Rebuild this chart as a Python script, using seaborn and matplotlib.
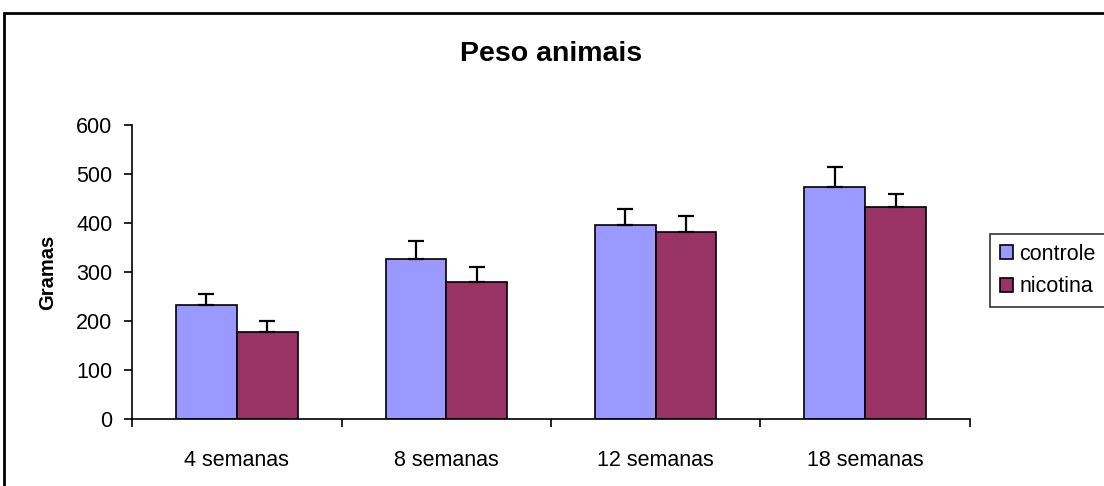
import matplotlib
matplotlib.use("Agg")
import matplotlib.pyplot as plt
import seaborn as sns
import pandas as pd
from matplotlib.patches import Rectangle

# Data
semanas = ["4 semanas", "8 semanas", "12 semanas", "18 semanas"]
controle = [233, 326, 396, 474]
nicotina = [177, 280, 382, 433]
controle_err = [22, 37, 33, 41]
nicotina_err = [22, 30, 33, 26]
grupos = ["controle", "nicotina"]
cores = ["#9999FF", "#993366"]

df = pd.DataFrame({
    "Semana": semanas * 2,
    "Peso": controle + nicotina,
    "Grupo": [grupos[0]] * 4 + [grupos[1]] * 4,
})

sns.set_style("white")
plt.rcParams["font.family"] = ["Liberation Sans", "DejaVu Sans"]
plt.rcParams["text.color"] = "black"
plt.rcParams["axes.labelcolor"] = "black"
plt.rcParams["xtick.color"] = "black"
plt.rcParams["ytick.color"] = "black"

fig = plt.figure(figsize=(11.04, 4.86), dpi=100)
ax = fig.add_axes([0.1196, 0.1379, 0.7590, 0.6049])

sns.barplot(data=df, x="Semana", y="Peso", hue="Grupo", order=semanas,
            hue_order=grupos, palette=cores, width=0.58, gap=0,
            errorbar=None, edgecolor="black", linewidth=1.2, saturation=1,
            ax=ax)

# one-sided error bars on top of each bar
erros = controle_err + nicotina_err
bars = [p for p in ax.patches if p.get_height() > 0][:8]
for p, e in zip(bars, erros):
    xc = p.get_x() + p.get_width() / 2
    ax.errorbar(xc, p.get_height(), yerr=[[0], [e]], fmt="none",
                ecolor="black", elinewidth=1.6, capsize=6, capthick=1.6,
                zorder=1)

ax.set_ylim(0, 600)
ax.set_yticks(range(0, 601, 100))
ax.set_xlim(-0.5, 3.5)
ax.set_xticks([-0.5, 0.5, 1.5, 2.5, 3.5])
ax.set_xticklabels([])
ax.set_xticks(range(4), minor=True)
ax.set_xticklabels(semanas, minor=True)
ax.tick_params(axis="x", which="major", direction="out", length=6,
               width=1.2, color="black", bottom=True)
ax.tick_params(axis="x", which="minor", length=0, pad=22, labelsize=15.5)
ax.tick_params(axis="y", direction="out", length=6, width=1.2,
               color="black", left=True, labelsize=15.5, pad=8)

for s in ["top", "right"]:
    ax.spines[s].set_visible(False)
for s in ["left", "bottom"]:
    ax.spines[s].set_color("black")
    ax.spines[s].set_linewidth(1.2)

ax.set_xlabel("")
ax.set_ylabel("Gramas", fontsize=14.5, fontweight="bold", labelpad=14)
ax.set_title("Peso animais", fontsize=20.5, fontweight="bold", pad=46)

leg = ax.legend(loc="center left", bbox_to_anchor=(1.024, 0.505),
                frameon=True, fontsize=15.5, handlelength=0.6,
                handleheight=0.6, handletextpad=0.3, borderpad=0.45,
                labelspacing=0.55, fancybox=False, borderaxespad=0)
leg.get_frame().set_edgecolor("black")
leg.get_frame().set_linewidth(1.2)
for h in leg.legend_handles:
    h.set_edgecolor("black")
    h.set_linewidth(1.2)

# outer chart frame
fig.patches.append(Rectangle((0.0036, -0.1), 1.1, 1.073, transform=fig.transFigure,
                             fill=False, edgecolor="black", linewidth=2))

fig.savefig("out.png", dpi=100)
